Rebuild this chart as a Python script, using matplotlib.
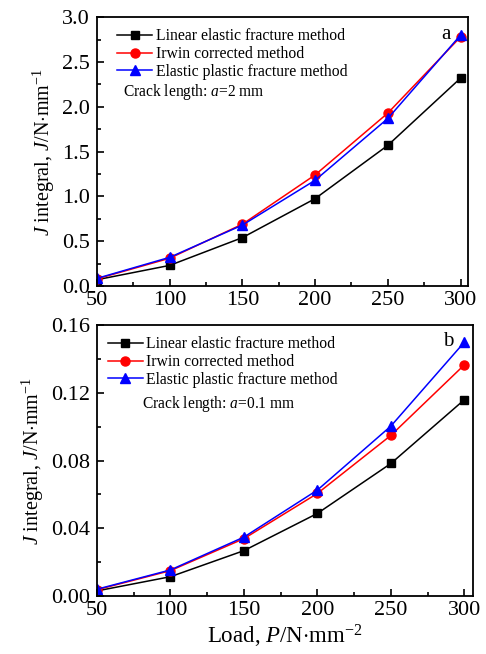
import matplotlib
matplotlib.use("Agg")
import matplotlib.pyplot as plt
from matplotlib.ticker import MultipleLocator

plt.rcParams['font.family'] = ['Liberation Serif', 'DejaVu Serif']
plt.rcParams['mathtext.fontset'] = 'custom'
plt.rcParams['mathtext.rm'] = 'Liberation Serif'
plt.rcParams['mathtext.it'] = 'Liberation Serif:italic'

load = [50, 100, 150, 200, 250, 300]

# (a) crack length 2 mm
a_linear = [0.07, 0.23, 0.54, 0.975, 1.57, 2.32]
a_irwin = [0.08, 0.31, 0.69, 1.24, 1.93, 2.78]
a_elastic = [0.085, 0.32, 0.68, 1.18, 1.87, 2.80]

# (b) crack length 0.1 mm
b_linear = [0.003, 0.0114, 0.0268, 0.0488, 0.0783, 0.116]
b_irwin = [0.0037, 0.015, 0.0339, 0.0606, 0.0949, 0.1366]
b_elastic = [0.004, 0.0154, 0.0348, 0.0626, 0.1004, 0.150]

labels = ['Linear elastic fracture method', 'Irwin corrected method',
          'Elastic plastic fracture method']
ylab = '$J$ integral, $J$/N$\\cdot$mm$^{-1}$'

fig = plt.figure(figsize=(4.86, 6.54), dpi=100)
ax1 = fig.add_axes([0.1996, 0.5627, 0.763, 0.411])
ax2 = fig.add_axes([0.1996, 0.0887, 0.774, 0.414])


def draw(ax, lin, irw, ela, ymax, ymaj, ymin, fmt, tag, tagpos, crack, xmax, legx):
    ax.plot(load, lin, color='black', marker='s', ms=6, lw=1.1, label=labels[0])
    ax.plot(load, irw, color='red', marker='o', ms=6.5, lw=1.1, label=labels[1])
    ax.plot(load, ela, color='blue', marker='^', ms=7, lw=1.1, label=labels[2])
    ax.set_xlim(50, xmax)
    ax.set_ylim(0, ymax)
    ax.xaxis.set_major_locator(MultipleLocator(50))
    ax.xaxis.set_minor_locator(MultipleLocator(25))
    ax.yaxis.set_major_locator(MultipleLocator(ymaj))
    ax.yaxis.set_minor_locator(MultipleLocator(ymin))
    ax.yaxis.set_major_formatter(plt.FormatStrFormatter(fmt))
    ax.tick_params(which='both', direction='in', top=False, right=False, width=1.2)
    ax.tick_params(axis='x', labelsize=16)
    ax.tick_params(axis='y', labelsize=16, pad=5)
    ax.tick_params(which='major', length=5)
    ax.tick_params(which='minor', length=3)
    for s in ax.spines.values():
        s.set_linewidth(1.3)
    ax.set_ylabel(ylab, fontsize=14.5, labelpad=4)
    ax.legend(loc='upper left', frameon=False, fontsize=11.3,
              handlelength=2.2, handletextpad=0.25, labelspacing=0.12,
              borderaxespad=0.3, bbox_to_anchor=(legx, 1.0))
    ax.text(tagpos[0], tagpos[1], tag, transform=ax.transAxes, fontsize=15,
            ha='center', va='center')
    ax.text(crack[0], crack[1], crack[2], transform=ax.transAxes, fontsize=11.2,
            ha='left', va='center')


draw(ax1, a_linear, a_irwin, a_elastic, 3.0, 0.5, 0.25, '%.1f', 'a', (0.94, 0.935),
     (0.07, 0.72, 'Crack length: $a$=2 mm'), 305, 0.025)
draw(ax2, b_linear, b_irwin, b_elastic, 0.16, 0.04, 0.02, '%.2f', 'b', (0.933, 0.94),
     (0.12, 0.71, 'Crack length: $a$=0.1 mm'), 306, 0.0)
ax2.set_xlabel('Load, $P$/N$\\cdot$mm$^{-2}$', fontsize=16.5, labelpad=2)

fig.savefig('out.png', dpi=100)
